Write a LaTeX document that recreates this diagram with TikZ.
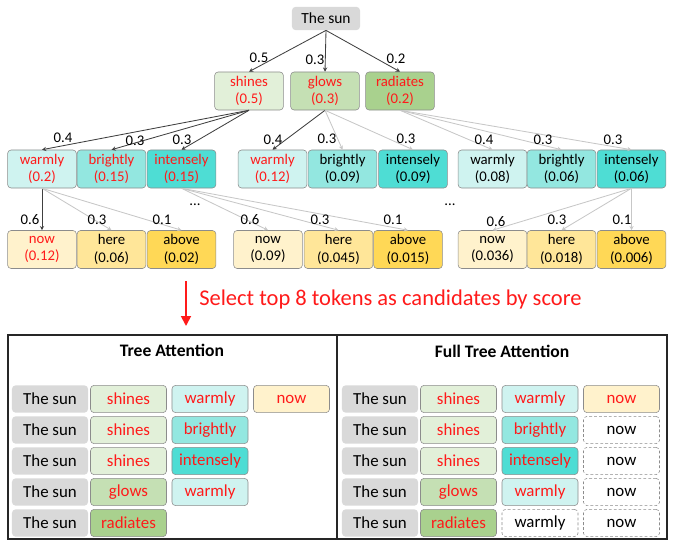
\documentclass[tikz,border=0pt]{standalone}
\usepackage{fontspec}
\setmainfont{Carlito}
\usepackage{tikz}
\usetikzlibrary{arrows.meta}
\definecolor{sungray}{HTML}{D9D9D9}
\definecolor{boxgray}{HTML}{8C8C8C}
\definecolor{grn1}{HTML}{E2F0D9}
\definecolor{grn2}{HTML}{C5E0B4}
\definecolor{grn3}{HTML}{A9D18E}
\definecolor{cyn1}{HTML}{CFF3F0}
\definecolor{cyn2}{HTML}{93E7E0}
\definecolor{cyn3}{HTML}{4EDDD4}
\definecolor{yel1}{HTML}{FFF2CC}
\definecolor{yel2}{HTML}{FFE699}
\definecolor{yel3}{HTML}{FFD856}
\definecolor{hot}{HTML}{FF1A1A}

\begin{document}
\begin{tikzpicture}[x=0.025cm,y=-0.025cm,
    tok/.style={draw=boxgray, rounded corners=2.5pt, minimum width=1.72cm, minimum height=0.95cm,
      inner sep=0pt, align=center, font=\fontsize{10.5}{12.5}\selectfont},
    cell/.style={draw=boxgray, rounded corners=2.5pt, minimum width=1.9cm, minimum height=0.68cm,
      inner sep=0pt, font=\fontsize{12}{14}\selectfont},
    sun/.style={draw=none, fill=sungray, rounded corners=2.5pt, inner sep=0pt},
    num/.style={font=\fontsize{10.5}{12}\selectfont, inner sep=0pt},
    dk/.style={draw=black!75, semithick, -{Stealth[length=3pt,width=3pt]}},
    lt/.style={draw=black!22, semithick, -{Stealth[length=3pt,width=3pt]}},
    >=stealth]
    \useasboundingbox (0,0) rectangle (674,544);

    % tree
    \node[sun, minimum width=1.7cm, minimum height=0.58cm, font=\fontsize{11}{13}\selectfont] (root) at (326,18.5) {The sun};
    \node[tok, fill=grn1, text=hot] (shines) at (249,91) {shines\\(0.5)};
    \node[tok, fill=grn2, text=hot] (glows) at (325,91) {glows\\(0.3)};
    \node[tok, fill=grn3, text=hot] (radiates) at (400,91) {radiates\\(0.2)};

    \node[tok, fill=cyn1, text=hot] (wa1) at (42,169) {warmly\\(0.2)};
    \node[tok, fill=cyn2, text=hot] (br1) at (111.5,169) {brightly\\(0.15)};
    \node[tok, fill=cyn3, text=hot] (in1) at (181.5,169) {intensely\\(0.15)};
    \node[tok, fill=cyn1, text=hot] (wa2) at (272.5,169) {warmly\\(0.12)};
    \node[tok, fill=cyn2] (br2) at (342.5,169) {brightly\\(0.09)};
    \node[tok, fill=cyn3] (in2) at (413,169) {intensely\\(0.09)};
    \node[tok, fill=cyn1] (wa3) at (492.5,169) {warmly\\(0.08)};
    \node[tok, fill=cyn2] (br3) at (561.5,169) {brightly\\(0.06)};
    \node[tok, fill=cyn3] (in3) at (631.5,169) {intensely\\(0.06)};

    \node[tok, fill=yel1, text=hot] (no1) at (42,249.5) {now\\(0.12)};
    \node[tok, fill=yel2] (he1) at (111.5,249.5) {here\\(0.06)};
    \node[tok, fill=yel3] (ab1) at (181.5,249.5) {above\\(0.02)};
    \node[tok, fill=yel1] (no2) at (268,249.5) {now\\(0.09)};
    \node[tok, fill=yel2] (he2) at (338.5,249.5) {here\\(0.045)};
    \node[tok, fill=yel3] (ab2) at (408,249.5) {above\\(0.015)};
    \node[tok, fill=yel1] (no3) at (492.5,249.5) {now\\(0.036)};
    \node[tok, fill=yel2] (he3) at (561.5,249.5) {here\\(0.018)};
    \node[tok, fill=yel3] (ab3) at (631.5,249.5) {above\\(0.006)};

    \draw[dk] (root.south) -- (shines.north);
    \draw[dk] (root.south) -- (glows.north);
    \draw[dk] (root.south) -- (radiates.north);
    \node[num] (p-sh) at (259,58) {0.5};
    \node[num] (p-gl) at (315,60) {0.3};
    \node[num] (p-ra) at (396,59) {0.2};

    \draw[dk] (shines.south) -- (wa1.north);
    \draw[dk] (shines.south) -- (br1.north);
    \draw[dk] (shines.south) -- (in1.north);
    \draw[dk] (glows.south) -- (wa2.north);
    \draw[lt] (glows.south) -- (br2.north);
    \draw[lt] (glows.south) -- (in2.north);
    \draw[lt] (radiates.south) -- (wa3.north);
    \draw[lt] (radiates.south) -- (br3.north);
    \draw[lt] (radiates.south) -- (in3.north);
    \node[num] (p-wa1) at (63,138) {0.4};
    \node[num] (p-br1) at (135,141) {0.3};
    \node[num] (p-in1) at (182,140) {0.3};
    \node[num] (p-wa2) at (273,140) {0.4};
    \node[num] (p-br2) at (327,139) {0.3};
    \node[num] (p-in2) at (406,139) {0.3};
    \node[num] (p-wa3) at (484,140) {0.4};
    \node[num] (p-br3) at (543,140) {0.3};
    \node[num] (p-in3) at (613,140) {0.3};

    \draw[dk] (wa1.south) -- (no1.north);
    \draw[lt] (wa1.south) -- (he1.north);
    \draw[lt] (wa1.south) -- (ab1.north);
    \draw[lt] (in1.south) -- (no2.north);
    \draw[lt] (in1.south) -- (he2.north);
    \draw[lt] (in1.south) -- (ab2.north);
    \draw[lt] (in3.south) -- (no3.north);
    \draw[lt] (in3.south) -- (he3.north);
    \draw[lt] (in3.south) -- (ab3.north);
    \node[num] (p-no1) at (30,220) {0.6};
    \node[num] (p-he1) at (97,220) {0.3};
    \node[num] (p-ab1) at (162,220) {0.1};
    \node[num] (p-no2) at (250,220) {0.6};
    \node[num] (p-he2) at (320,220) {0.3};
    \node[num] (p-ab2) at (393,220) {0.1};
    \node[num] (p-no3) at (496,222) {0.6};
    \node[num] (p-he3) at (557,220) {0.3};
    \node[num] (p-ab3) at (622,220) {0.1};
    \node[num] (dots1) at (195,205) {...};
    \node[num] (dots2) at (450,205) {...};

    % selection
    \coordinate (sel-top) at (186,281);
    \coordinate (sel-bot) at (186,326);
    \draw[hot, line width=1.3pt, -{Triangle[length=7pt,width=7pt]}] (sel-top) -- (sel-bot);
    \node[text=hot, anchor=west, inner sep=0pt, font=\fontsize{16}{19}\selectfont] (sel) at (199,299) {Select top 8 tokens as candidates by score};

    % attention tables
    \draw[black!85, line width=1pt] (8,335) rectangle (667,539);
    \draw[black!85, line width=1pt] (337,335) -- (337,539);
    \node[font=\bfseries\fontsize{12.5}{14}\selectfont] (t-tree) at (172,350) {Tree Attention};
    \node[font=\bfseries\fontsize{12.5}{14}\selectfont] (t-full) at (502,351) {Full Tree Attention};

    \foreach \sd/\dx in {L/0, R/330} {
      \foreach \r/\y/\w/\c in {1/399/shines/grn1, 2/430/shines/grn1, 3/461/shines/grn1, 4/492/glows/grn2, 5/523/radiates/grn3} {
        \node[cell, sun] (\sd-sun-\r) at (50+\dx,\y) {The sun};
        \node[cell, fill=\c, text=hot] (\sd-a-\r) at (128.5+\dx,\y) {\w};
      }
      \node[cell, fill=cyn1, text=hot] (\sd-b-1) at (210+\dx,399) {warmly};
      \node[cell, fill=cyn2, text=hot] (\sd-b-2) at (210+\dx,430) {brightly};
      \node[cell, fill=cyn3, text=hot] (\sd-b-3) at (210+\dx,461) {intensely};
      \node[cell, fill=cyn1, text=hot] (\sd-b-4) at (210+\dx,492) {warmly};
      \node[cell, fill=yel1, text=hot] (\sd-c-1) at (291.5+\dx,399) {now};
    }
    \node[cell, dash pattern=on 2pt off 1.5pt, fill=white] (R-b-5) at (540,523) {warmly};
    \foreach \r/\y in {2/430, 3/461, 4/492, 5/523}
      \node[cell, dash pattern=on 2pt off 1.5pt, fill=white] (R-c-\r) at (621.5,\y) {now};
  \end{tikzpicture}
\end{document}
